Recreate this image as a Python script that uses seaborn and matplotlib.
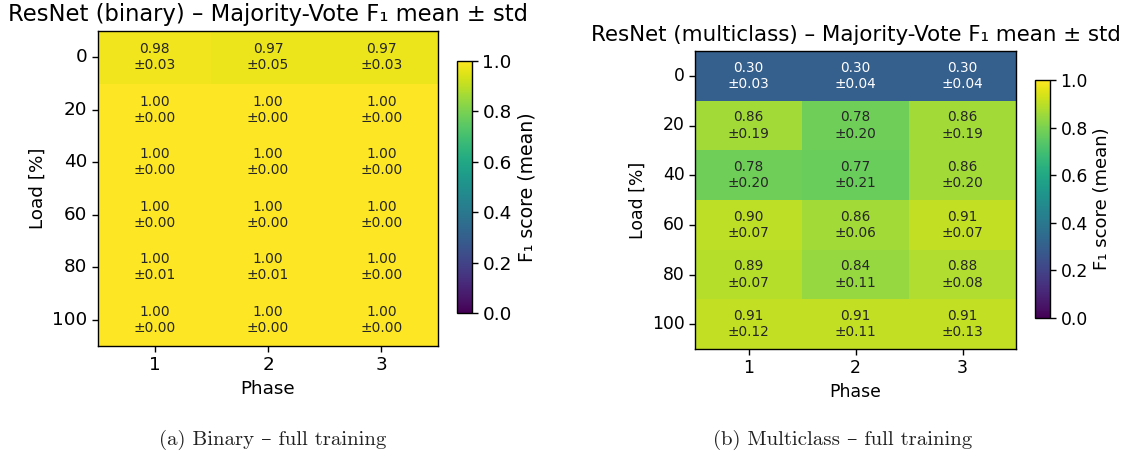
import numpy as np
import pandas as pd
import matplotlib
matplotlib.use("Agg")
import matplotlib.pyplot as plt
import seaborn as sns

# ---- data ----
loads = [0, 20, 40, 60, 80, 100]
phases = [1, 2, 3]

bin_mean = [[0.98, 0.97, 0.97],
            [1.00, 1.00, 1.00],
            [1.00, 1.00, 1.00],
            [1.00, 1.00, 1.00],
            [1.00, 1.00, 1.00],
            [1.00, 1.00, 1.00]]
bin_std = [[0.03, 0.05, 0.03],
           [0.00, 0.00, 0.00],
           [0.00, 0.00, 0.00],
           [0.00, 0.00, 0.00],
           [0.01, 0.01, 0.00],
           [0.00, 0.00, 0.00]]

mc_mean = [[0.30, 0.30, 0.30],
           [0.86, 0.78, 0.86],
           [0.78, 0.77, 0.86],
           [0.90, 0.86, 0.91],
           [0.89, 0.84, 0.88],
           [0.91, 0.91, 0.91]]
mc_std = [[0.03, 0.04, 0.04],
          [0.19, 0.20, 0.19],
          [0.20, 0.21, 0.20],
          [0.07, 0.06, 0.07],
          [0.07, 0.11, 0.08],
          [0.12, 0.11, 0.13]]

titles = ["ResNet (binary) – Majority-Vote F\u2081 mean ± std",
          "ResNet (multiclass) – Majority-Vote F\u2081 mean ± std"]
captions = ["(a) Binary – full training", "(b) Multiclass – full training"]

W, H = 1128, 454
fig = plt.figure(figsize=(W / 100, H / 100), dpi=100)


def box(x0, y0, x1, y1):
    return [x0 / W, 1 - y1 / H, (x1 - x0) / W, (y1 - y0) / H]


specs = [
    dict(mean=bin_mean, std=bin_std, ax=box(98, 31, 438, 346), cax=box(457, 61, 472, 313),
         title=titles[0], tfs=16.3, lfs=13.2, afs=9.9, cfs=13.6, cap=captions[0], capx=273),
    dict(mean=mc_mean, std=mc_std, ax=box(695, 51, 1016, 349), cax=box(1035, 80, 1050, 318),
         title=titles[1], tfs=15.4, lfs=12.4, afs=9.8, cfs=13.0, cap=captions[1], capx=843),
]

for s in specs:
    ax = fig.add_axes(s["ax"])
    cax = fig.add_axes(s["cax"])
    df = pd.DataFrame(s["mean"], index=loads, columns=phases)
    annot = np.array([[f"{m:.2f}\n±{d:.2f}" for m, d in zip(rm, rd)]
                      for rm, rd in zip(s["mean"], s["std"])])
    sns.heatmap(df, ax=ax, cbar_ax=cax, cmap="viridis", vmin=0, vmax=1,
                annot=annot, fmt="", annot_kws={"fontsize": s["afs"]},
                cbar_kws={"ticks": [0, 0.2, 0.4, 0.6, 0.8, 1.0]})
    for sp in ax.spines.values():
        sp.set_visible(True)
        sp.set_linewidth(1.0)
        sp.set_color("black")
    ax.tick_params(axis="both", labelsize=s["lfs"], length=4, width=1, colors="black")
    ax.set_yticklabels([str(v) for v in loads], rotation=0)
    ax.set_xticklabels([str(v) for v in phases], rotation=0)
    ax.set_xlabel("Phase", fontsize=s["lfs"])
    ax.set_ylabel("Load [%]", fontsize=s["lfs"])
    ax.set_title(s["title"], fontsize=s["tfs"], pad=7)
    cb = ax.collections[0].colorbar
    cb.outline.set_visible(True)
    cb.outline.set_linewidth(1.0)
    cb.outline.set_edgecolor("black")
    cb.ax.tick_params(labelsize=s["lfs"], length=4, width=1)
    cb.ax.yaxis.set_major_formatter(matplotlib.ticker.FormatStrFormatter("%.1f"))
    cb.set_label("F\u2081 score (mean)", fontsize=s["cfs"])
    fig.text(s["capx"] / W, 1 - 440 / H, s["cap"], ha="center", va="center",
             fontsize=15.0, family=["cmr10", "DejaVu Serif"], color="#222222")

fig.savefig("out.png", dpi=100)
